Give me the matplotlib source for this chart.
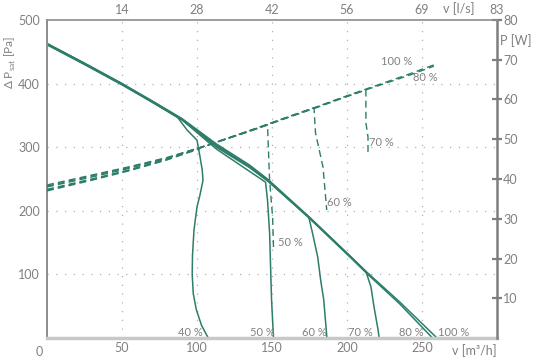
import matplotlib.pyplot as plt

# Kennlinien Lüfter: Druck (durchgezogen) und Leistung (gestrichelt)
TEAL = "#2d7d6a"
GRAU = "#808080"

# Luftmenge [m3/h] und statischer Druck [Pa] je Stufe
flow_100 = [0, 25, 50, 70, 90, 113, 135, 147, 175, 203, 213, 235, 260]
dp_100 = [463, 432, 400, 373, 345, 305, 272, 250, 190, 127, 104, 57, 0]

flow_80 = [0, 25, 50, 70, 90, 113, 135, 147, 175, 203, 213, 235, 257]
dp_80 = [461, 430, 398, 371, 343, 303, 270, 248, 188, 125, 102, 54, 0]

flow_70 = [0, 25, 50, 70, 90, 113, 135, 147, 175, 203, 212.7, 216, 218, 220.7, 221.4]
dp_70 = [462, 431, 399, 372, 344, 302, 269, 248, 189, 126, 104, 80, 49, 13, 0]

flow_60 = [0, 25, 50, 70, 90, 113, 135, 147, 174.5, 177, 180.5, 182.5, 184.5, 186.6]
dp_60 = [463, 432, 400, 372, 344, 300, 268, 247, 190, 165, 127, 90, 60, 0]

flow_50 = [0, 25, 50, 70, 90, 113, 130, 145.7, 147, 148.4, 149.7, 151]
dp_50 = [462, 431, 399, 371, 343, 297, 270, 245, 217, 165, 60, 0]

flow_40 = [0, 25, 50, 70, 87, 93.4, 100, 102, 103.5, 104, 102, 100, 98, 97, 96.8, 97.5, 99.5, 103, 107.5]
dp_40 = [462, 431, 399, 372, 347, 327, 311, 285, 264, 248, 225, 206, 170, 130, 100, 70, 45, 20, 0]

# Leistungsaufnahme [W] je Stufe
pflow_100 = [0, 30, 55, 80, 102, 136, 147, 161, 180, 196, 214, 240, 260]
p_100 = [37.0, 39.7, 42.1, 44.8, 47.8, 52.3, 53.8, 55.7, 58.2, 60.4, 62.8, 66.2, 69.0]

pflow_80 = [0, 30, 55, 80, 102, 136, 147, 161, 180, 196, 214, 240, 258]
p_80 = [38.5, 41.0, 43.1, 45.4, 47.9, 52.1, 53.6, 55.5, 58.0, 60.2, 62.6, 65.9, 68.4]

pflow_70 = [0, 30, 55, 80, 102, 136, 147, 161, 180, 196, 212.6, 212.6, 214, 214]
p_70 = [38.0, 40.5, 42.7, 45.2, 47.9, 52.2, 53.7, 55.6, 58.1, 60.3, 62.4, 54.1, 50.6, 46.0]

pflow_60 = [0, 30, 55, 80, 102, 136, 147, 161, 178, 179, 184, 186.5]
p_60 = [37.4, 40.0, 42.3, 45.0, 47.8, 52.2, 53.7, 55.6, 57.9, 51.6, 43.0, 32.2]

pflow_50 = [0, 30, 55, 80, 102, 136, 147, 148.4, 150.4, 151]
p_50 = [38.2, 40.8, 42.9, 45.3, 47.9, 52.3, 53.6, 39.7, 30.4, 22.9]

pflow_40 = [0, 30, 55, 80, 102]
p_40 = [37.2, 39.9, 42.2, 44.9, 47.6]

# Beschriftungen
stufen = ["40 %", "50 %", "60 %", "70 %", "80 %", "100 %"]
stufen_x = [95.4, 143.7, 178, 209, 243, 271]
p_stufen = ["50 %", "60 %", "70 %", "80 %", "100 %"]
p_stufen_x = [162.4, 195, 222.7, 252, 232.8]
p_stufen_y = [23.9, 34.0, 49.3, 65.6, 69.6]

x_ticks = [50, 100, 150, 200, 250]
ls_ticks = [50, 100, 150, 200, 250, 300]
ls_labels = ["14", "28", "42", "56", "69", "83"]
pa_ticks = [100, 200, 300, 400, 500]
w_ticks = [10, 20, 30, 40, 50, 60, 70, 80]

plt.rcParams["font.family"] = ["Lato", "DejaVu Sans"]

fig = plt.figure(figsize=(5.34, 3.6), dpi=100)
ax = fig.add_axes([47 / 534, 1 - 338 / 360, 450 / 534, 318 / 360])
axp = ax.twinx()
axt = ax.twiny()

ax.set_xlim(0, 300)
ax.set_ylim(0, 500)
axp.set_ylim(0, 80)
axt.set_xlim(0, 300)

# Raster
for xv in x_ticks:
    ax.axvline(xv, color="#b0b0b0", lw=0.9, ls=(0, (1, 6)), zorder=0)
for yv in pa_ticks[:-1]:
    ax.axhline(yv, color="#b0b0b0", lw=0.9, ls=(0, (1, 6)), zorder=0)

# Druckkurven
for fx, dy in [(flow_100, dp_100), (flow_80, dp_80), (flow_70, dp_70),
               (flow_60, dp_60), (flow_50, dp_50), (flow_40, dp_40)]:
    ax.plot(fx, dy, color=TEAL, lw=1.1, solid_capstyle="butt")

# Leistungskurven
for fx, py in [(pflow_100, p_100), (pflow_80, p_80), (pflow_70, p_70),
               (pflow_60, p_60), (pflow_50, p_50), (pflow_40, p_40)]:
    axp.plot(fx, py, color=TEAL, lw=1.0, ls=(0, (5, 3)))

for txt, xv in zip(stufen, stufen_x):
    ax.text(xv, 9, txt, color=GRAU, fontsize=8, ha="center", va="center")
for txt, xv, yv in zip(p_stufen, p_stufen_x, p_stufen_y):
    axp.text(xv, yv, txt, color=GRAU, fontsize=8, ha="center", va="center")

# Achsen
ax.set_xticks(x_ticks)
ax.set_yticks(pa_ticks)
ax.tick_params(axis="both", length=0, colors=GRAU, labelsize=9)
ax.tick_params(axis="y", pad=5)
ax.tick_params(axis="x", pad=3)
ax.text(-0.018, -0.025, "0", transform=ax.transAxes, color=GRAU, fontsize=9,
        ha="center", va="top")

axt.set_xticks(ls_ticks)
axt.set_xticklabels(ls_labels)
axt.tick_params(axis="x", length=0, colors=GRAU, labelsize=9, pad=3)

axp.set_yticks(w_ticks)
axp.tick_params(axis="y", direction="inout", length=7, width=1.6, color=GRAU,
                labelcolor=GRAU, labelsize=9, pad=1)

for a in (ax, axp, axt):
    for s in a.spines.values():
        s.set_visible(False)
ax.spines["left"].set_visible(True)
ax.spines["left"].set_color("#8c8c8c")
ax.spines["left"].set_linewidth(1.4)
ax.spines["bottom"].set_visible(True)
ax.spines["bottom"].set_color("#c8c8c8")
ax.spines["bottom"].set_linewidth(2.5)
axt.spines["top"].set_visible(True)
axt.spines["top"].set_color("#8c8c8c")
axt.spines["top"].set_linewidth(1.2)
axp.spines["right"].set_visible(True)
axp.spines["right"].set_color("#7f7f7f")
axp.spines["right"].set_linewidth(1.8)

fig.text(10 / 534, 1 - 62 / 360, r"Δ P$_{\mathregular{sat}}$ [Pa]", rotation=90,
         color=GRAU, fontsize=8.5, ha="center", va="center")
fig.text(459 / 534, 1 - 9 / 360, "v [l/s]", color=GRAU, fontsize=9,
         ha="center", va="center")
fig.text(516 / 534, 1 - 41 / 360, "P [W]", color=GRAU, fontsize=9,
         ha="center", va="center")
fig.text(497 / 534, 1 - 351 / 360, "v [m³/h]", color=GRAU, fontsize=9,
         ha="right", va="center")

fig.savefig("out.png", dpi=100)
